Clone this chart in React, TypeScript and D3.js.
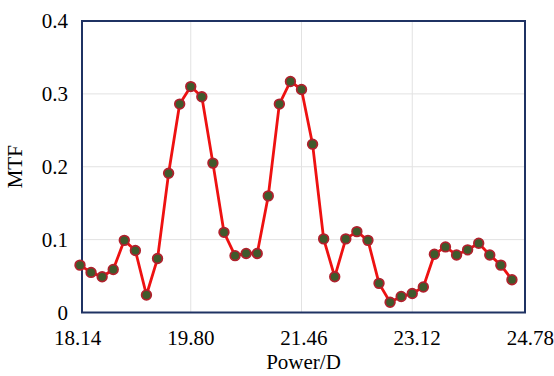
import React, { useRef, useEffect } from 'react';
import * as d3 from 'd3';

// x positions: 40 samples, 0.166 D apart, starting at 18.14
const power = [
  18.14, 18.306, 18.472, 18.638, 18.804, 18.97, 19.136, 19.302, 19.468, 19.634,
  19.8, 19.966, 20.132, 20.298, 20.464, 20.63, 20.796, 20.962, 21.128, 21.294,
  21.46, 21.626, 21.792, 21.958, 22.124, 22.29, 22.456, 22.622, 22.788, 22.954,
  23.12, 23.286, 23.452, 23.618, 23.784, 23.95, 24.116, 24.282, 24.448, 24.614
];
const mtf = [
  0.065, 0.055, 0.049, 0.059, 0.099, 0.085, 0.024, 0.074, 0.191, 0.286,
  0.310, 0.296, 0.205, 0.110, 0.078, 0.081, 0.081, 0.160, 0.286, 0.317,
  0.306, 0.231, 0.101, 0.049, 0.101, 0.111, 0.099, 0.040, 0.014, 0.022,
  0.026, 0.035, 0.080, 0.090, 0.079, 0.086, 0.095, 0.079, 0.065, 0.045
];
const xTicks = [18.14, 19.80, 21.46, 23.12, 24.78];
const yTicks = [0, 0.1, 0.2, 0.3, 0.4];

const MtfChart = () => {
  const svgRef = useRef(null);

  useEffect(() => {
    const svg = d3.select(svgRef.current);
    svg.selectAll('*').remove();
    const width = 554;
    const height = 376;
    const margin = { top: 21, right: 29, bottom: 64, left: 82 };
    const font = 'Liberation Serif, DejaVu Serif, serif';

    svg.attr('width', width).attr('height', height);

    const x = d3.scaleLinear()
      .domain([18.14, 24.78])
      .range([80, 523]);
    const y = d3.scaleLinear()
      .domain([0, 0.4])
      .range([height - margin.bottom + 0.5, margin.top]);

    const bottom = height - margin.bottom + 0.5;
    const right = width - margin.right;

    // grid
    const grid = svg.append('g').attr('stroke', '#e2e2e2').attr('stroke-width', 1);
    grid.selectAll('line.v')
      .data(xTicks.slice(1, -1))
      .join('line')
      .attr('x1', d => x(d)).attr('x2', d => x(d))
      .attr('y1', margin.top).attr('y2', bottom);
    grid.selectAll('line.h')
      .data(yTicks.slice(1, -1))
      .join('line')
      .attr('x1', margin.left).attr('x2', right)
      .attr('y1', d => y(d)).attr('y2', d => y(d));

    // frame
    svg.append('rect')
      .attr('x', margin.left)
      .attr('y', margin.top)
      .attr('width', right - margin.left)
      .attr('height', bottom - margin.top)
      .attr('fill', 'none')
      .attr('stroke', '#1f3263')
      .attr('stroke-width', 2);

    const labels = svg.append('g').style('font', `21px ${font}`);

    // tick labels
    labels.append('g')
      .selectAll('text')
      .data(xTicks)
      .join('text')
      .attr('x', d => x(d) + (d - 19.8) * 1.5)
      .attr('y', 345)
      .attr('text-anchor', 'middle')
      .text(d => d.toFixed(2));

    labels.append('g')
      .selectAll('text')
      .data(yTicks)
      .join('text')
      .attr('x', 68)
      .attr('y', d => y(d))
      .attr('dy', '0.35em')
      .attr('text-anchor', 'end')
      .text(d => (d === 0 ? '0' : d.toFixed(1)));

    // axis titles
    labels.append('text')
      .attr('x', (margin.left + right) / 2)
      .attr('y', 369)
      .attr('text-anchor', 'middle')
      .text('Power/D');

    labels.append('text')
      .attr('transform', `translate(22,${(margin.top + bottom) / 2}) rotate(-90)`)
      .attr('text-anchor', 'middle')
      .text('MTF');

    // curve
    const line = d3.line()
      .x((d, i) => x(power[i]))
      .y(d => y(d));

    svg.append('path')
      .datum(mtf)
      .attr('d', line)
      .attr('fill', 'none')
      .attr('stroke', '#ee1111')
      .attr('stroke-width', 2.8)
      .attr('stroke-linejoin', 'round');

    svg.append('g')
      .selectAll('circle')
      .data(mtf)
      .join('circle')
      .attr('cx', (d, i) => x(power[i]))
      .attr('cy', d => y(d))
      .attr('r', 4.8)
      .attr('fill', '#3f5a2c')
      .attr('stroke', '#b0202c')
      .attr('stroke-width', 1.8);
  }, []);

  return <svg ref={svgRef} style={{ position: 'absolute', left: 0, top: 0 }}></svg>;
};

export default function App() {
  return <MtfChart />;
}
